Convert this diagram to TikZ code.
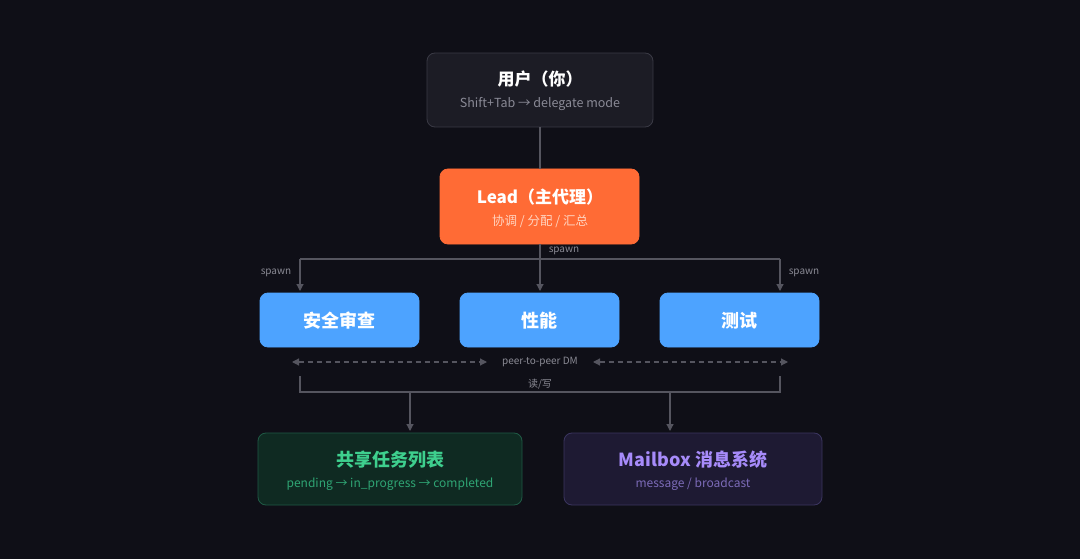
\documentclass[tikz,border=0pt]{standalone}
\usepackage{fontspec}
\setmainfont{Noto Sans CJK SC}
\usetikzlibrary{arrows.meta}
\definecolor{bg}{HTML}{0F0F17}
\definecolor{userfill}{HTML}{1C1C25}
\definecolor{userdraw}{HTML}{3A3A45}
\definecolor{subgray}{HTML}{8A8A96}
\definecolor{leadfill}{HTML}{FF6B35}
\definecolor{leadsub}{HTML}{FFD3BF}
\definecolor{bluefill}{HTML}{4DA3FF}
\definecolor{linegray}{HTML}{55555F}
\definecolor{labgray}{HTML}{8A8A94}
\definecolor{greenfill}{HTML}{0F2A22}
\definecolor{greendraw}{HTML}{1F5A45}
\definecolor{greentitle}{HTML}{3ECF8E}
\definecolor{greensub}{HTML}{2FA574}
\definecolor{purpfill}{HTML}{1E1A33}
\definecolor{purpdraw}{HTML}{3B3560}
\definecolor{purptitle}{HTML}{A78BFA}
\definecolor{purpsub}{HTML}{7C6BB8}
\tikzset{
  box/.style={rounded corners=8pt, inner sep=0pt, line width=0.8pt},
  conn/.style={draw=linegray, line width=1.2pt},
  arr/.style={conn, -{Triangle[length=7pt,width=7pt]}},
  lab/.style={text=labgray, font=\fontsize{10}{12}\selectfont, inner sep=1pt},
  title/.style={font=\fontsize{17}{20}\selectfont\bfseries},
  btitle/.style={font=\fontsize{18}{21}\selectfont\bfseries},
  sub/.style={font=\fontsize{12.5}{15}\selectfont},
}
\begin{document}
\begin{tikzpicture}[x=1pt,y=-1pt]
\fill[bg] (0,0) rectangle (1080,559);
\useasboundingbox (0,0) rectangle (1080,559);
% user
\draw[box, fill=userfill, draw=userdraw] (427,53) rectangle (653,127);
\node[title, text=white] (usert) at (540,79) {用户（你）};
\node[sub, text=subgray] (users) at (540,104) {Shift+Tab → delegate mode};
\coordinate (userb) at (540,127);
% lead
\draw[box, fill=leadfill, draw=leadfill] (440,169) rectangle (639,244);
\node[title, text=white] (leadt) at (540,197) {Lead（主代理）};
\node[sub, text=leadsub] (leads) at (540,221) {协调 / 分配 / 汇总};
\coordinate (leadtop) at (540,169);
\coordinate (leadb) at (540,244);
\draw[conn] (userb) -- (leadtop);
% workers
\foreach \x/\nm/\t in {260/a/安全审查,460/b/性能,660/c/测试}{
  \draw[box, fill=bluefill, draw=bluefill] (\x,293) rectangle ({\x+159},347);
  \node[btitle, text=white] (w\nm) at ({\x+79.5},321) {\t};
}
\coordinate (sl) at (300,259);
\coordinate (sr) at (780,259);
\coordinate (al) at (300,291);
\coordinate (am) at (540,291);
\coordinate (ar) at (780,291);
\draw[conn] (sl) -- (sr);
\draw[arr] (leadb) -- (am);
\draw[arr] (sl) -- (al);
\draw[arr] (sr) -- (ar);
\node[lab] (sp1) at (564,251) {spawn};
\node[lab] (sp2) at (276,273) {spawn};
\node[lab] (sp3) at (804,273) {spawn};
% peer-to-peer
\node[lab] (p2p) at (540,362) {peer-to-peer DM};
\coordinate (d1) at (292,362);
\coordinate (d2) at (487,362);
\coordinate (d3) at (593,362);
\coordinate (d4) at (788,362);
\draw[conn, dash pattern=on 5pt off 4pt, {Triangle[length=7pt,width=7pt]}-{Triangle[length=7pt,width=7pt]}] (d1) -- (d2);
\draw[conn, dash pattern=on 5pt off 4pt, {Triangle[length=7pt,width=7pt]}-{Triangle[length=7pt,width=7pt]}] (d3) -- (d4);
% read/write bracket
\coordinate (b1) at (300,376);
\coordinate (b2) at (300,392);
\coordinate (b3) at (780,392);
\coordinate (b4) at (780,376);
\draw[conn] (b1) -- (b2) -- (b3) -- (b4);
\node[lab] (rw) at (540,384) {读/写};
\coordinate (g1) at (410,392);
\coordinate (g2) at (410,431);
\coordinate (m1) at (670,392);
\coordinate (m2) at (670,431);
\draw[arr] (g1) -- (g2);
\draw[arr] (m1) -- (m2);
% green
\draw[box, fill=greenfill, draw=greendraw] (258,433) rectangle (522,505);
\node[btitle, text=greentitle] (gt) at (390,460) {共享任务列表};
\node[sub, text=greensub, font=\fontsize{12}{14}\selectfont] (gs) at (390,484) {pending → in\_progress → completed};
% purple
\draw[box, fill=purpfill, draw=purpdraw] (564,433) rectangle (822,505);
\node[btitle, text=purptitle] (pt) at (693,460) {Mailbox 消息系统};
\node[sub, text=purpsub, font=\fontsize{12}{14}\selectfont] (ps) at (693,484) {message / broadcast};
\end{tikzpicture}
\end{document}
